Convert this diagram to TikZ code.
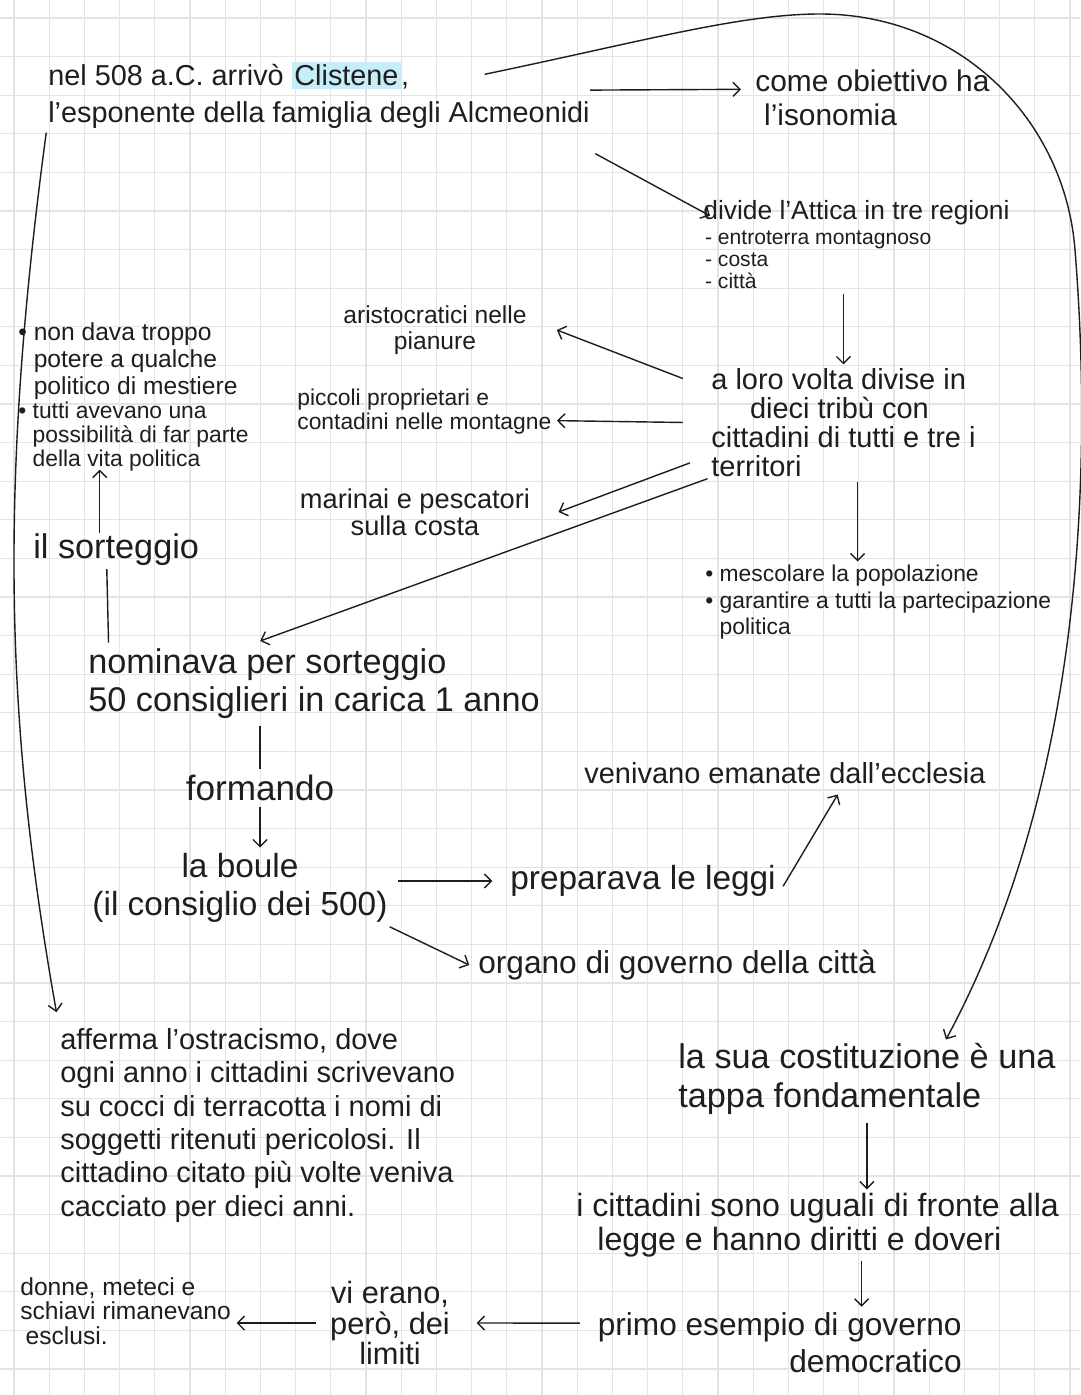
\documentclass[tikz,border=0pt]{standalone}
\usepackage{fontspec}
\setmainfont{Liberation Sans}
\usetikzlibrary{arrows.meta,positioning}
\definecolor{ink}{HTML}{1E1E1E}
\definecolor{gridgray}{HTML}{E4E4E4}
\definecolor{clhl}{HTML}{C6EEF8}
\newcommand{\hlword}[1]{{\setlength{\fboxsep}{1.5pt}\colorbox{clhl}{#1}}}

\begin{document}
\begin{tikzpicture}[x=0.02cm,y=-0.02cm,
 >={Straight Barb[length=4pt,width=8pt]},
 note/.style={inner sep=0pt,text=ink,align=left},
 link/.style={->,draw=ink,line width=0.8pt},
 plain/.style={draw=ink,line width=0.8pt},
 gridline/.style={draw=gridgray,line width=0.7pt}]
 \fill[white] (0,0) rectangle (1080,1395);
 \useasboundingbox (0,0) rectangle (1080,1395);
 % squared paper
 \foreach \gx in {0,...,30} \draw[gridline] ({14+35.2*\gx},0) -- ({14+35.2*\gx},1395);
 \foreach \gy in {0,...,35} \draw[gridline] (0,{18+38.6*\gy}) -- (1080,{18+38.6*\gy});

 \node[note,anchor=north west,font=\fontsize{16.4}{21}\selectfont] (title) at (48,62)
   {nel 508 a.C. arrivò \hlword{Clistene},\\l'esponente della famiglia degli Alcmeonidi};
 \node[note,anchor=north west,font=\fontsize{17}{19}\selectfont] (goal) at (755,70)
   {come obiettivo ha\\\hspace{5pt}l'isonomia};
 \node[note,anchor=north west,font=\fontsize{15}{16}\selectfont] (regions) at (703,200)
   {divide l'Attica in tre regioni};
 \node[note,below right=3pt and 1pt of regions.south west,font=\fontsize{12}{12.5}\selectfont] (zones)
   {- entroterra montagnoso\\- costa\\- città};
 \node[note,align=center,font=\fontsize{14}{14.5}\selectfont] (nobles) at (435,330)
   {aristocratici nelle\\pianure};
 \node[note,anchor=north west,font=\fontsize{13}{13.5}\selectfont] (farmers) at (297,389)
   {piccoli proprietari e\\contadini nelle montagne};
 \node[note,align=center,font=\fontsize{15.5}{15.5}\selectfont] (sailors) at (415,512)
   {marinai e pescatori\\sulla costa};
 \node[note,anchor=north west,font=\fontsize{16.5}{16.5}\selectfont] (tribes) at (711,368)
   {a loro volta divise in\\\hspace{22pt}dieci tribù con\\cittadini di tutti e tre i\\territori};
 \node[note,anchor=north west,font=\fontsize{13}{15}\selectfont] (mixing) at (705,565)
   {• mescolare la popolazione\\• garantire a tutti la partecipazione\\\phantom{• }politica};
 \node[note,anchor=north west,font=\fontsize{14}{15.5}\selectfont] (power) at (18,322)
   {• non dava troppo\\\phantom{• }potere a qualche\\\phantom{• }politico di mestiere};
 \node[note,below right=1pt and 0pt of power.south west,font=\fontsize{13}{13.5}\selectfont] (chance)
   {• tutti avevano una\\\phantom{• }possibilità di far parte\\\phantom{• }della vita politica};
 \node[note,anchor=north west,font=\fontsize{19.5}{21}\selectfont] (lot) at (33,533) {il sorteggio};
 \node[note,anchor=north west,font=\fontsize{19.5}{22}\selectfont] (council) at (88,648)
   {nominava per sorteggio\\50 consiglieri in carica 1 anno};
 \node[note,font=\fontsize{20}{20}\selectfont] (forming) at (260,788) {formando};
 \node[note,align=center,font=\fontsize{19}{22}\selectfont] (boule) at (240,888)
   {la boule\\(il consiglio dei 500)};
 \node[note,anchor=west,font=\fontsize{19}{21}\selectfont] (laws) at (510,881) {preparava le leggi};
 \node[note,font=\fontsize{16.5}{19}\selectfont] (assembly) at (785,773) {venivano emanate dall'ecclesia};
 \node[note,anchor=west,font=\fontsize{18}{20}\selectfont] (city) at (478,965) {organo di governo della città};
 \node[note,anchor=north west,font=\fontsize{16.5}{19}\selectfont] (ostracism) at (60,1028)
   {afferma l'ostracismo, dove\\ogni anno i cittadini scrivevano\\su cocci di terracotta i nomi di\\soggetti ritenuti pericolosi. Il\\cittadino citato più volte veniva\\cacciato per dieci anni.};
 \node[note,anchor=north west,font=\fontsize{19.5}{22}\selectfont] (constitution) at (678,1043)
   {la sua costituzione è una\\tappa fondamentale};
 \node[note,anchor=north west,font=\fontsize{18.3}{19}\selectfont] (equal) at (576,1193)
   {i cittadini sono uguali di fronte alla\\\hspace{12pt}legge e hanno diritti e doveri};
 \node[note,anchor=north east,align=right,font=\fontsize{18}{21}\selectfont] (first) at (962,1312)
   {primo esempio di governo\\democratico};
 \node[note,align=center,font=\fontsize{17.5}{17.5}\selectfont] (limits) at (390,1323)
   {vi erano,\\però, dei\\limiti};
 \node[note,anchor=north west,font=\fontsize{14}{14}\selectfont] (excluded) at (20,1277)
   {donne, meteci e\\schiavi rimanevano\\\hspace{3pt}esclusi.};

 % Clistene
 \draw[link] ([yshift=-16pt]title.north east) -- ([shift={(-8pt,-11pt)}]goal.north west);
 \draw[link] ([shift={(3pt,-14pt)}]title.south east) -- ([shift={(4pt,-9pt)}]regions.north west);
 \draw[link] ([shift={(-1pt,-2pt)}]title.south west) .. controls +(-47,350) and +(-52,-292) .. ([shift={(-2pt,9pt)}]ostracism.north west);
 \draw[link] ([shift={(-60pt,-7pt)}]title.north east) .. controls (640,42) and (740,14) .. (820,14)
   .. controls (960,14) and (1065,120) .. (1075,250)
   .. controls (1095,500) and (1075,800) .. ([shift={(45pt,2pt)}]constitution.north);
 % regions and tribes
 \draw[link] ([yshift=-3pt]tribes.north |- zones.south) -- ([yshift=2pt]tribes.north);
 \draw[link] ([shift={(-16pt,-6pt)}]tribes.north west) -- ([xshift=17pt]nobles.east);
 \draw[link] ([xshift=-16pt]tribes.west) -- ([shift={(3pt,-5pt)}]farmers.east);
 \draw[link] ([shift={(-12pt,8pt)}]tribes.south west) -- ([xshift=16pt]sailors.east);
 \draw[link] ([shift={(-2pt,-1pt)}]tribes.south west) -- ([shift={(98pt,4pt)}]council.north west);
 \draw[link] ([shift={(8pt,-3pt)}]tribes.south) -- ([xshift=8pt,yshift=2pt]tribes.south |- mixing.north);
 % sorteggio
 \draw[link] ([xshift=38pt]lot.north west) -- ([xshift=38pt,yshift=1pt]lot.north west |- chance.south);
 \draw[plain] ([xshift=42pt,yshift=-2pt]lot.south west) -- ([xshift=43pt,yshift=3pt]lot.south west |- council.north);
 \draw[plain] ([yshift=-4pt]forming.north |- council.south) -- ([yshift=3pt]forming.north);
 \draw[link] ([yshift=-3pt]forming.south) -- ([yshift=3pt]forming.south |- boule.north);
 % boule
 \draw[link] ([xshift=6pt]boule.east |- laws.west) -- ([xshift=-10pt]laws.west);
 \draw[link] ([shift={(4pt,-3pt)}]laws.east) -- ([shift={(30pt,-6pt)}]assembly.south);
 \draw[link] ([shift={(1pt,-2pt)}]boule.south east) -- ([xshift=-5pt]city.west);
 % costituzione
 \draw[link] ([yshift=-5pt]constitution.south) -- ([yshift=2pt]constitution.south |- equal.north);
 \draw[link] ([shift={(25pt,-2pt)}]equal.south) -- ([shift={(25pt,3pt)}]equal.south |- first.north);
 \draw[link] ([shift={(-10pt,11pt)}]first.west) -- ([xshift=15pt]limits.east);
 \draw[link] ([xshift=-8pt]limits.west) -- ([xshift=3pt]excluded.east |- limits.west);
\end{tikzpicture}
\end{document}
